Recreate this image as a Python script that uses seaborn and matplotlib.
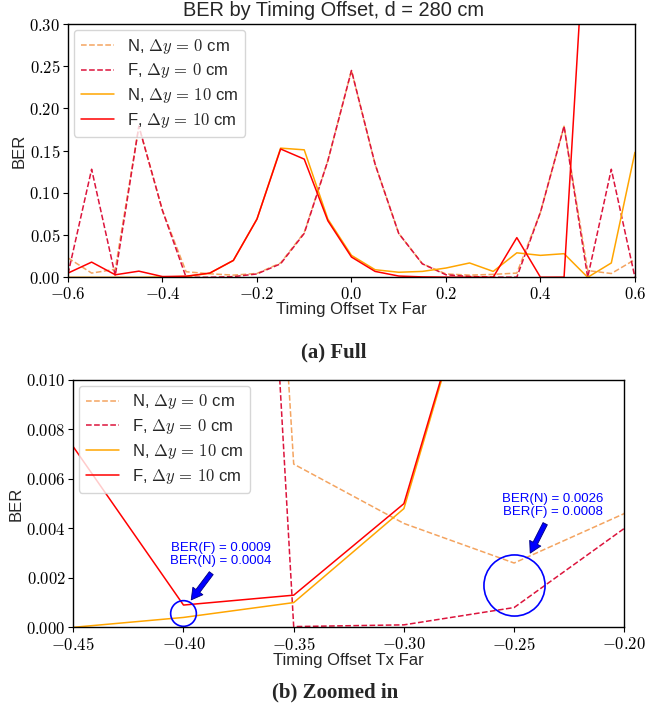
import numpy as np
import pandas as pd
import matplotlib
matplotlib.use("Agg")
import matplotlib.pyplot as plt
import seaborn as sns

# timing offset of the far transmitter
offsets = [-0.6, -0.55, -0.5, -0.45, -0.4, -0.35, -0.3, -0.25, -0.2, -0.15, -0.1, -0.05, 0.0,
           0.05, 0.1, 0.15, 0.2, 0.25, 0.3, 0.35, 0.4, 0.45, 0.5, 0.55, 0.6]

# BER values
ber_n_dy0 = [0.023, 0.005, 0.0095, 0.179, 0.079, 0.0066, 0.0042, 0.0026, 0.0046, 0.017, 0.053, 0.138, 0.245,
             0.134, 0.052, 0.016, 0.004, 0.0026, 0.0035, 0.005, 0.077, 0.179, 0.008, 0.0045, 0.021]
ber_f_dy0 = [0.004, 0.128, 0.002, 0.179, 0.079, 0.00003, 0.0001, 0.0008, 0.0040, 0.016, 0.052, 0.138, 0.245,
             0.134, 0.052, 0.016, 0.003, 0.001, 0.0002, 0.0002, 0.077, 0.179, 0.0, 0.128, 0.0]
ber_n_dy10 = [0.0, 0.0, 0.0, 0.0, 0.0004, 0.0010, 0.0048, 0.020, 0.069, 0.153, 0.151, 0.069, 0.026,
              0.009, 0.006, 0.007, 0.011, 0.017, 0.007, 0.029, 0.026, 0.028, 0.0, 0.017, 0.148]
ber_f_dy10 = [0.005, 0.018, 0.003, 0.0073, 0.0009, 0.0013, 0.0050, 0.020, 0.069, 0.152, 0.140, 0.067, 0.024,
              0.007, 0.0015, 0.0005, 0.0002, 0.0001, 0.0001, 0.047, 0.0001, 0.0002, 0.47, 0.49, 0.50]

series_labels = [r"N, $\Delta y \,=\, 0$ cm", r"F, $\Delta y \,=\, 0$ cm",
                 r"N, $\Delta y \,=\, 10$ cm", r"F, $\Delta y \,=\, 10$ cm"]
series_colors = ["#f4a460", "crimson", "orange", "red"]
series_styles = ["--", "--", "-", "-"]

full_xticks = [-0.6, -0.4, -0.2, 0.0, 0.2, 0.4, 0.6]
full_xticklabels = [r"$-0.6$", r"$-0.4$", r"$-0.2$", r"$0.0$", r"$0.2$", r"$0.4$", r"$0.6$"]
full_yticks = [0.0, 0.05, 0.1, 0.15, 0.2, 0.25, 0.3]
full_yticklabels = [r"$0.00$", r"$0.05$", r"$0.10$", r"$0.15$", r"$0.20$", r"$0.25$", r"$0.30$"]
zoom_xticks = [-0.45, -0.4, -0.35, -0.3, -0.25, -0.2]
zoom_xticklabels = [r"$-0.45$", r"$-0.40$", r"$-0.35$", r"$-0.30$", r"$-0.25$", r"$-0.20$"]
zoom_yticks = [0.0, 0.002, 0.004, 0.006, 0.008, 0.010]
zoom_yticklabels = [r"$0.000$", r"$0.002$", r"$0.004$", r"$0.006$", r"$0.008$", r"$0.010$"]

df = pd.DataFrame({"offset": offsets, "n0": ber_n_dy0, "f0": ber_f_dy0,
                   "n10": ber_n_dy10, "f10": ber_f_dy10})
cols = ["n0", "f0", "n10", "f10"]

sns.set_style("ticks")
plt.rcParams["font.family"] = ["Liberation Sans", "DejaVu Sans"]
plt.rcParams["mathtext.fontset"] = "cm"
plt.rcParams["font.size"] = 12
plt.rcParams["axes.edgecolor"] = "black"
plt.rcParams["xtick.color"] = "black"
plt.rcParams["ytick.color"] = "black"
plt.rcParams["axes.linewidth"] = 1.0

fig = plt.figure(figsize=(6.68, 7.19), dpi=100)
ax1 = fig.add_axes([0.1018, 0.6143, 0.8487, 0.3523])
ax2 = fig.add_axes([0.1097, 0.1275, 0.8249, 0.3440])


def draw_lines(ax):
    for col, lab, c, ls in zip(cols, series_labels, series_colors, series_styles):
        sns.lineplot(data=df, x="offset", y=col, ax=ax, color=c, linestyle=ls,
                     linewidth=1.1, label=lab)
    ax.legend(loc="upper left", fontsize=12, labelspacing=0.35, borderaxespad=0.35)
    ax.set_xlabel("Timing Offset Tx Far", fontsize=12, labelpad=0)
    ax.set_ylabel("BER", fontsize=12, labelpad=2)
    ax.tick_params(labelsize=12)
    ax.tick_params(axis="x", pad=2.5)
    ax.tick_params(axis="y", pad=2)


# (a) full range
draw_lines(ax1)
ax1.set_xlim(-0.6, 0.6)
ax1.set_ylim(0, 0.30)
ax1.set_xticks(full_xticks, labels=full_xticklabels)
ax1.set_yticks(full_yticks, labels=full_yticklabels)
ax1.set_title("BER by Timing Offset, d = 280 cm", fontsize=14.4, x=0.468)

# (b) zoomed in
draw_lines(ax2)
ax2.set_xlim(-0.45, -0.2)
ax2.set_ylim(0, 0.010)
ax2.set_xticks(zoom_xticks, labels=zoom_xticklabels)
ax2.set_yticks(zoom_yticks, labels=zoom_yticklabels)

# highlight the minima
ax2.plot([-0.4], [0.00059], "o", mfc="none", mec="blue", ms=18.5, mew=1.2)
ax2.plot([-0.25], [0.00171], "o", mfc="none", mec="blue", ms=44, mew=1.2)
arrow = dict(facecolor="blue", edgecolor="navy", lw=0.6, width=3.5, headwidth=9, headlength=8)
ax2.annotate("", xy=(-0.3965, 0.00111), xytext=(-0.3874, 0.00219), arrowprops=arrow)
ax2.annotate("", xy=(-0.2427, 0.0030), xytext=(-0.2359, 0.00419), arrowprops=arrow)
ax2.text(-0.3829, 0.00294, "BER(F) = 0.0009\nBER(N) = 0.0004", color="blue",
         fontsize=9.5, ha="center", va="center", linespacing=1.05)
ax2.text(-0.2325, 0.00492, "BER(N) = 0.0026\nBER(F) = 0.0008", color="blue",
         fontsize=9.5, ha="center", va="center", linespacing=1.05)

cap = dict(fontsize=15, fontweight="bold", family=["Liberation Serif", "DejaVu Serif"], ha="center", va="center")
fig.text(0.499, 1 - 352 / 719, "(a) Full", **cap)
fig.text(0.502, 1 - 692 / 719, "(b) Zoomed in", **cap)

fig.savefig("out.png", dpi=100)
